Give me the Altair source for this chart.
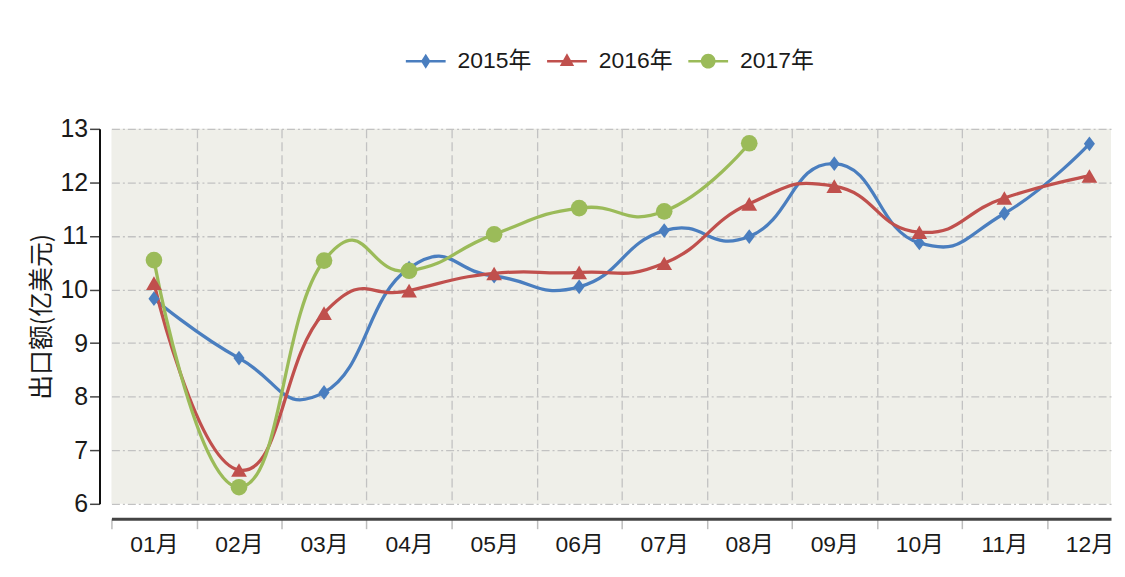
import altair as alt
import pandas as pd

months = ['01月', '02月', '03月', '04月', '05月', '06月', '07月', '08月', '09月', '10月', '11月', '12月']
years = ['2015年', '2016年', '2017年']
v2015 = [9.83, 8.72, 8.08, 10.4, 10.25, 10.05, 11.1, 10.99, 12.35, 10.87, 11.42, 12.72]
v2016 = [10.12, 6.63, 9.56, 9.98, 10.3, 10.32, 10.49, 11.6, 11.93, 11.07, 11.71, 12.12]
v2017 = [10.55, 6.31, 10.54, 10.35, 11.03, 11.52, 11.46, 12.73]
colors = ['#4a7ebf', '#c0504d', '#9bbb59']

rows = []
for yr, vals in zip(years, [v2015, v2016, v2017]):
    for i, v in enumerate(vals):
        rows.append({'m': i + 1, 'month': months[i], 'year': yr, 'value': v})
df = pd.DataFrame(rows)

NUM_FONT = 'Liberation Sans, Noto Sans CJK SC'
CJK_FONT = 'Noto Sans CJK SC'

W, H = 1005, 377
STEP = 85.5
xmax = 0.5 + W / STEP

label_arr = '[' + ','.join("'" + m + "'" for m in months) + ']'

x_enc = alt.X('m:Q',
              scale=alt.Scale(domain=[0.5, xmax], nice=False, zero=False),
              axis=alt.Axis(values=[i + 0.5 for i in range(12)],
                            labelExpr=label_arr + '[round(datum.value - 0.5)]',
                            labelOffset=STEP / 2, labelFlush=False, labelOverlap=False, labelBound=False,
                            offset=15, tickSize=10, tickColor='#bdbdbd', tickWidth=1.5,
                            domainColor='#444444', domainWidth=3,
                            grid=True, gridDash=[9, 4], gridColor='#c2c2c2', gridWidth=1.3,
                            gridOpacity={'condition': {'test': 'datum.value < 1', 'value': 0}, 'value': 1},
                            labelFont=NUM_FONT, labelFontSize=23, labelColor='#1a1a1a', labelPadding=5,
                            title=None))
y_enc = alt.Y('value:Q',
              scale=alt.Scale(domain=[6, 13], nice=False, zero=False),
              axis=alt.Axis(values=list(range(6, 14)), offset=12, tickSize=10, tickColor='#444444',
                            tickWidth=1.5, domainColor='#111111', domainWidth=2,
                            grid=True, gridDash=[8, 3, 2, 3], gridColor='#c2c2c2', gridWidth=1.3,
                            labelFont=NUM_FONT, labelFontSize=25, labelColor='#1a1a1a', labelPadding=2,
                            labelFlush=False,
                            title='出口额(亿美元)', titleFont=CJK_FONT, titleFontSize=25,
                            titleFontWeight='normal', titleColor='#1a1a1a', titlePadding=5))

lines = alt.Chart(df).mark_line(interpolate='cardinal', tension=-0.5, strokeWidth=3.3).encode(
    x=x_enc, y=y_enc,
    color=alt.Color('year:N', scale=alt.Scale(domain=years, range=colors), legend=None),
)

points = alt.Chart(df).mark_point(filled=True, opacity=1).encode(
    x=x_enc, y=y_enc,
    color=alt.Color('year:N', scale=alt.Scale(domain=years, range=colors), legend=None),
    shape=alt.Shape('year:N', scale=alt.Scale(domain=years, range=[
        'M0,-1L0.75,0L0,1L-0.75,0Z', 'triangle-up', 'circle']), legend=None),
    size=alt.Size('year:N', scale=alt.Scale(domain=years, range=[220, 280, 310]), legend=None),
)

leg_paths = [
    'M-1,-0.06L1,-0.06L1,0.06L-1,0.06Z M0,-0.38L0.24,0L0,0.38L-0.24,0Z',
    'M-1,-0.06L1,-0.06L1,0.06L-1,0.06Z M0,-0.4L0.36,0.24L-0.36,0.24Z',
    'M-1,-0.06L1,-0.06L1,0.06L-1,0.06Z M-0.37,0A0.37,0.37 0 1,1 0.37,0A0.37,0.37 0 1,1 -0.37,0Z',
]
leg = alt.Legend(title=None, orient='none', legendX=296, legendY=-88, direction='horizontal',
                 symbolSize=1600, symbolStrokeWidth=0, symbolOpacity=1, labelOffset=12,
                 columnPadding=15, labelFont=NUM_FONT, labelFontSize=23, labelColor='#1a1a1a')

legend_layer = alt.Chart(df).mark_point(filled=True, opacity=0).encode(
    x=x_enc, y=y_enc,
    color=alt.Color('year:N', scale=alt.Scale(domain=years, range=colors), legend=leg),
    shape=alt.Shape('year:N', scale=alt.Scale(domain=years, range=leg_paths), legend=leg),
)

chart = alt.layer(lines, points, legend_layer).resolve_scale(
    color='independent', shape='independent'
).properties(
    width=W, height=H,
    autosize=alt.AutoSizeParams(type='none'),
    padding={'left': 104, 'top': 120, 'right': 6, 'bottom': 55},
).configure_view(fill='#efefe9', stroke=None)

chart.save('out.html', embed_options={'renderer': 'svg', 'actions': False})
